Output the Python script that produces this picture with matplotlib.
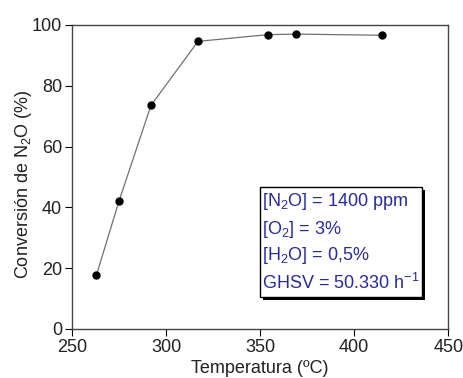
import matplotlib
matplotlib.use("Agg")
import matplotlib.pyplot as plt
from matplotlib.patches import Rectangle

plt.rcParams['font.family'] = ['Liberation Sans', 'DejaVu Sans']
plt.rcParams['mathtext.fontset'] = 'custom'
plt.rcParams['mathtext.rm'] = 'Liberation Sans'
plt.rcParams['mathtext.it'] = 'Liberation Sans:italic'
plt.rcParams['mathtext.default'] = 'regular'

# data
temperatura = [263, 275, 292, 317, 354, 369, 415]
conversion = [17.6, 42.0, 73.5, 94.6, 96.8, 97.0, 96.6]

x_ticks = [250, 300, 350, 400, 450]
y_ticks = [0, 20, 40, 60, 80, 100]

condiciones = [
    r"[N$_2$O] = 1400 ppm",
    r"[O$_2$] = 3%",
    r"[H$_2$O] = 0,5%",
    r"GHSV = 50.330 h$^{-1}$",
]

fig = plt.figure(figsize=(4.64, 3.78), dpi=100)
ax = fig.add_axes([0.155, 0.130, 0.811, 0.804])

ax.plot(temperatura, conversion, color='#707070', lw=0.9,
        marker='o', ms=5, mfc='black', mec='black')

ax.set_xlim(250, 450)
ax.set_ylim(0, 100)
ax.set_xticks(x_ticks)
ax.set_yticks(y_ticks)
ax.tick_params(direction='out', length=5, labelsize=13, colors='black',
               labelcolor='#222222', pad=2)
for s in ax.spines.values():
    s.set_color('#444444')
    s.set_linewidth(1.0)

ax.set_xlabel("Temperatura (ºC)", fontsize=13, color='#222222', labelpad=3)
ax.set_ylabel("Conversión de N$_2$O (%)", fontsize=13, color='#222222')
ax.yaxis.set_label_coords(-0.10, 0.475)

# box with conditions (in figure pixel coordinates)
W, H = 464, 378
bx0, by0, bw, bh = 260, 187, 162, 110
shadow = Rectangle(((bx0 + 3) / W, 1 - (by0 + bh + 3) / H), bw / W, bh / H,
                   transform=fig.transFigure, facecolor='black', edgecolor='none', zorder=5)
box = Rectangle((bx0 / W, 1 - (by0 + bh) / H), bw / W, bh / H,
                transform=fig.transFigure, facecolor='white', edgecolor='black', lw=1.0, zorder=6)
fig.patches.extend([shadow, box])

for i, txt in enumerate(condiciones):
    y = by0 + 15 + i * 27
    fig.text((bx0 + 2) / W, 1 - y / H, txt, color='#2a2aa0', fontsize=13,
             va='center', ha='left', zorder=7)

fig.savefig("out.png", dpi=100)
